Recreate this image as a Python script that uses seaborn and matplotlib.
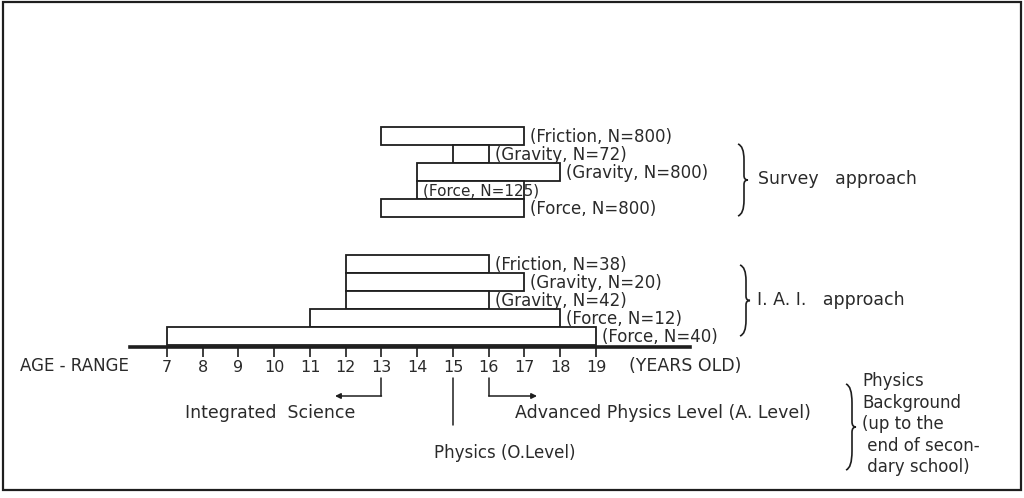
import numpy as np
import matplotlib
matplotlib.use("Agg")
import matplotlib.pyplot as plt
from matplotlib.path import Path
from matplotlib.patches import PathPatch, Rectangle
import seaborn as sns

# survey approach studies (age range in years)
survey_topics = ["Friction", "Gravity", "Gravity", "Force", "Force"]
survey_n = [800, 72, 800, 125, 800]
survey_start = [13, 15, 14, 14, 13]
survey_end = [17, 16, 18, 17, 17]

# I.A.I. approach studies
iai_topics = ["Friction", "Gravity", "Gravity", "Force", "Force"]
iai_n = [38, 20, 42, 12, 40]
iai_start = [12, 12, 12, 11, 7]
iai_end = [16, 17, 16, 18, 19]

ages = list(range(7, 20))
bg_lines = ["Physics", "Background", "(up to the", " end of secon-", " dary school)"]

INK = "#1e1e1e"
TXT = "#2a2a2a"

sns.set_theme(style="white")
plt.rcParams["font.family"] = ["DejaVu Sans"]

W, H = 1024, 498
PX = 35.75          # pixels per year
X0 = 7 - 167 / PX   # year at left edge

fig = plt.figure(figsize=(W / 100, H / 100), dpi=100)
fig.patch.set_facecolor("white")

ax = fig.add_axes([0, 0, 1, 1])
ax.set_xlim(X0, X0 + W / PX)
ax.set_ylim(H, 0)
ax.set_facecolor("none")
sns.despine(ax=ax, left=True, top=True, right=True)

# age axis
ax.spines["bottom"].set_position(("data", 347))
ax.spines["bottom"].set_bounds(X0 + 130 / PX, X0 + 690 / PX)
ax.spines["bottom"].set_linewidth(2.6)
ax.spines["bottom"].set_color(INK)
ax.set_xticks(ages)
ax.set_xticklabels([str(a) for a in ages])
ax.set_yticks([])
ax.tick_params(axis="x", direction="out", length=7.5, width=1.2, color=INK,
               pad=2, labelsize=11.5, labelcolor=TXT, bottom=True)


def draw_group(topics, ns, starts, ends, top, inside=()):
    row_h = 18
    ys = [top + row_h * i + row_h / 2 for i in range(len(topics))]
    ax.barh(ys, np.array(ends) - np.array(starts), left=starts, height=row_h,
            color="white", edgecolor=INK, linewidth=1.3)
    for i, (t, n, s, e, y) in enumerate(zip(topics, ns, starts, ends, ys)):
        if i in inside:
            x, fs = s + 6 / PX, 11
        else:
            x, fs = e + 6 / PX, 12
        ax.text(x, y + 1, f"({t}, N={n})", fontsize=fs, color=TXT,
                ha="left", va="center")


draw_group(survey_topics, survey_n, survey_start, survey_end, 127, inside=(3,))
draw_group(iai_topics, iai_n, iai_start, iai_end, 255)

# school physics stages below the axis
ax.plot([13, 13], [378, 396], color=INK, lw=1.1)
ax.annotate("", xy=(11.7, 396), xytext=(13, 396),
            arrowprops=dict(arrowstyle="-|>", color=INK, lw=1.1,
                            mutation_scale=8, shrinkA=0, shrinkB=0))
ax.plot([16, 16], [378, 396], color=INK, lw=1.1)
ax.annotate("", xy=(17.35, 396), xytext=(16, 396),
            arrowprops=dict(arrowstyle="-|>", color=INK, lw=1.1,
                            mutation_scale=8, shrinkA=0, shrinkB=0))
ax.plot([15, 15], [378, 425], color=INK, lw=1.1)

# overlay in pixel units for labels, braces and frame
ov = fig.add_axes([0, 0, 1, 1])
ov.set_xlim(0, W)
ov.set_ylim(H, 0)
ov.axis("off")
ov.patch.set_alpha(0)

ov.add_patch(Rectangle((3, 2), 1018, 488, fill=False, edgecolor=INK, lw=1.6))

ov.text(20, 366, "AGE - RANGE", fontsize=12, color=TXT, va="center", ha="left")
ov.text(629, 366, "(YEARS OLD)", fontsize=12.5, color=TXT, va="center", ha="left")
ov.text(185, 413, "Integrated  Science", fontsize=12.5, color=TXT, va="center")
ov.text(515, 413, "Advanced Physics Level (A. Level)", fontsize=12.5, color=TXT,
        va="center")
ov.text(434, 453, "Physics (O.Level)", fontsize=12, color=TXT, va="center")


def brace(x, y0, y1, w=6):
    h = y1 - y0
    ym = (y0 + y1) / 2
    verts = [(x, y0), (x + w, y0 + 2), (x + w, y0 + 0.22 * h),
             (x + w, ym - 0.06 * h),
             (x + w, ym), (x + w + 4, ym),
             (x + w, ym), (x + w, ym + 0.06 * h),
             (x + w, y1 - 0.22 * h),
             (x + w, y1 - 2), (x, y1)]
    codes = [Path.MOVETO, Path.CURVE3, Path.CURVE3, Path.LINETO,
             Path.CURVE3, Path.CURVE3, Path.CURVE3, Path.CURVE3,
             Path.LINETO, Path.CURVE3, Path.CURVE3]
    ov.add_patch(PathPatch(Path(verts, codes), fill=False, edgecolor=INK, lw=1.2))


brace(738, 144, 216)
ov.text(758, 179, "Survey   approach", fontsize=12.5, color=TXT, va="center")
brace(740, 265, 336)
ov.text(757, 300, "I. A. I.   approach", fontsize=12.5, color=TXT, va="center")
brace(846, 384, 470)
for i, line in enumerate(bg_lines):
    ov.text(862, 381 + 21.5 * i, line, fontsize=12, color=TXT, va="center")

fig.savefig("out.png", dpi=100, facecolor="white")
